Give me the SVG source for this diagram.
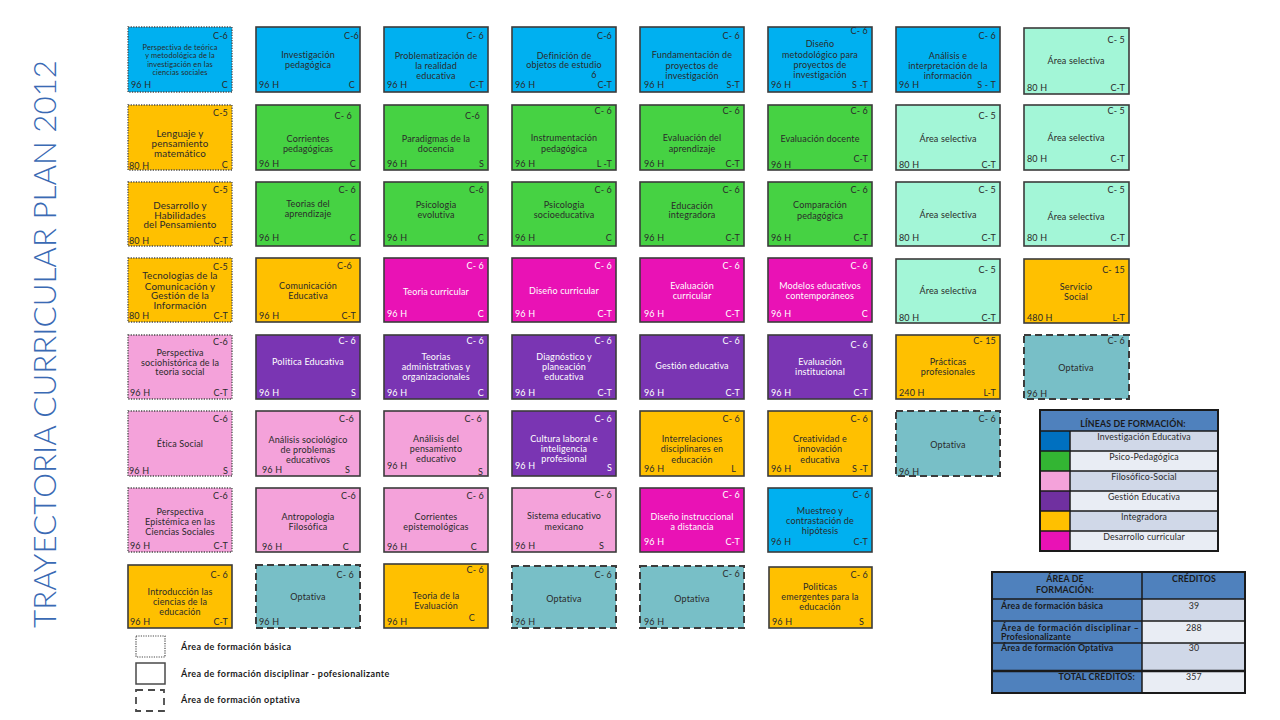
<svg xmlns="http://www.w3.org/2000/svg" width="1280" height="720" viewBox="0 0 1280 720">
<style>
.box{stroke:#3b3b3b;stroke-width:1.6}
.dot{stroke:#4a4a4a;stroke-width:1.3;stroke-dasharray:1.3 1.3}
.dash{stroke:#3b3b3b;stroke-width:2;stroke-dasharray:7 4}
text{font-family:Lato,"Liberation Sans",sans-serif;font-size:9px;fill:#2a2a2a;letter-spacing:0.15px}
.m{text-anchor:middle}
.e{text-anchor:end}
.w text{fill:#ffffff}
.bl{fill:#00b0f0}.gr{fill:#46d243}.or{fill:#ffc000}.mg{fill:#e912b5}.pu{fill:#7a35b3}.pk{fill:#f4a2da}.aq{fill:#a3f6d7}.op{fill:#78bfc7}
.lg text{font-size:8.8px}
.hd{font-weight:bold;fill:#1a1a1a}
.tb{stroke:#1a1a1a;stroke-width:1.5}
.small{font-size:7.4px}
.big{font-size:9.8px}
</style>
<rect width="1280" height="720" fill="#ffffff"/>
<g id="title">
<text transform="translate(56,628) rotate(-90)" style="font-size:31px;font-weight:300;fill:#3a6ab4;letter-spacing:0" textLength="568" lengthAdjust="spacingAndGlyphs">TRAYECTORIA CURRICULAR  PLAN 2012</text>
</g>
<g id="connectors"/>

<!-- Row 1 -->
<g id="n11"><rect class="bl dot" x="128" y="27" width="104" height="65"/>
<text class="m small"><tspan x="180" y="49.5">Perspectiva de teórica</tspan><tspan x="180" y="58">y metodológica de la</tspan><tspan x="180" y="66.5">investigación en las</tspan><tspan x="180" y="75">ciencias sociales</tspan></text>
<text class="e" x="228" y="38.5">C-6</text><text x="131" y="88">96 H</text><text class="e" x="228" y="88">C</text></g>
<g id="n12"><rect class="bl box" x="256" y="27" width="104" height="65"/>
<text class="m"><tspan x="308" y="57.5">Investigación</tspan><tspan x="308" y="68">pedagógica</tspan></text>
<text class="e" x="359" y="38.5">C-6</text><text x="259" y="88">96 H</text><text class="e" x="355" y="88">C</text></g>
<g id="n13"><rect class="bl box" x="384" y="27" width="104" height="65"/>
<text class="m"><tspan x="436" y="58.5">Problematización de</tspan><tspan x="436" y="68.5">la realidad</tspan><tspan x="436" y="78.5">educativa</tspan></text>
<text class="e" x="484" y="38.5">C- 6</text><text x="387" y="88">96 H</text><text class="e" x="484" y="88">C-T</text></g>
<g id="n14"><rect class="bl box" x="512" y="27" width="104" height="65"/>
<text class="m"><tspan x="564" y="58.5">Definición de</tspan><tspan x="564" y="67.5">objetos de estudio</tspan><tspan x="594" y="78">6</tspan></text>
<text class="e" x="612" y="38.5">C-6</text><text x="515" y="88">96 H</text><text class="e" x="612" y="88">C-T</text></g>
<g id="n15"><rect class="bl box" x="640" y="27" width="104" height="65"/>
<text class="m"><tspan x="692" y="57.5">Fundamentación de</tspan><tspan x="692" y="68.5">proyectos de</tspan><tspan x="692" y="78.5">investigación</tspan></text>
<text class="e" x="740" y="38.5">C- 6</text><text x="644" y="88">96 H</text><text class="e" x="740" y="88">S-T</text></g>
<g id="n16"><rect class="bl box" x="768" y="27" width="104" height="65"/>
<text class="m"><tspan x="820" y="47">Diseño</tspan><tspan x="820" y="57.5">metodológico para</tspan><tspan x="820" y="68">proyectos de</tspan><tspan x="820" y="77.5">investigación</tspan></text>
<text class="e" x="868" y="33.5">C- 6</text><text x="771" y="88">96 H</text><text class="e" x="868" y="88">S -T</text></g>
<g id="n17"><rect class="bl box" x="896" y="27" width="104" height="65"/>
<text class="m"><tspan x="948" y="58.5">Análisis e</tspan><tspan x="948" y="68.5">interpretación de la</tspan><tspan x="948" y="78.5">información</tspan></text>
<text class="e" x="996" y="38.5">C- 6</text><text x="899" y="88">96 H</text><text class="e" x="996" y="88">S - T</text></g>
<g id="n18"><rect class="aq box" x="1024" y="28" width="105" height="66"/>
<text class="m" x="1076" y="64">Área selectiva</text>
<text class="e" x="1125" y="42.5">C- 5</text><text x="1027" y="91">80 H</text><text class="e" x="1125" y="91">C-T</text></g>

<!-- Row 2 -->
<g id="n21"><rect class="or dot" x="128" y="105" width="104" height="65"/>
<text class="m big"><tspan x="180" y="136.5">Lenguaje y</tspan><tspan x="180" y="146.5">pensamiento</tspan><tspan x="180" y="156.5">matemático</tspan></text>
<text class="e" x="228" y="116">C-5</text><text x="129" y="168.5">80 H</text><text class="e" x="228" y="168">C</text></g>
<g id="n22"><rect class="gr box" x="256" y="105" width="104" height="65"/>
<text class="m"><tspan x="308" y="142">Corrientes</tspan><tspan x="308" y="152">pedagógicas</tspan></text>
<text class="e" x="352" y="118.5">C- 6</text><text x="259" y="167">96 H</text><text class="e" x="356" y="167">C</text></g>
<g id="n23"><rect class="gr box" x="384" y="105" width="104" height="65"/>
<text class="m"><tspan x="436" y="142">Paradigmas de la</tspan><tspan x="436" y="152">docencia</tspan></text>
<text class="e" x="480" y="118.5">C-6</text><text x="387" y="167">96 H</text><text class="e" x="484" y="167">S</text></g>
<g id="n24"><rect class="gr box" x="512" y="105" width="104" height="65"/>
<text class="m"><tspan x="564" y="140.5">Instrumentación</tspan><tspan x="564" y="152">pedagógica</tspan></text>
<text class="e" x="612" y="113.5">C- 6</text><text x="515" y="167">96 H</text><text class="e" x="612" y="167">L -T</text></g>
<g id="n25"><rect class="gr box" x="640" y="105" width="104" height="65"/>
<text class="m"><tspan x="692" y="140.5">Evaluación del</tspan><tspan x="692" y="151.5">aprendizaje</tspan></text>
<text class="e" x="740" y="113.5">C- 6</text><text x="644" y="167">96 H</text><text class="e" x="740" y="167">C-T</text></g>
<g id="n26"><rect class="gr box" x="768" y="105" width="104" height="65"/>
<text class="m" x="820" y="142">Evaluación  docente</text>
<text class="e" x="868" y="113.5">C- 6</text><text x="771" y="167.5">96 H</text><text class="e" x="868" y="162">C-T</text></g>
<g id="n27"><rect class="aq box" x="896" y="105" width="104" height="65"/>
<text class="m" x="948" y="142">Área selectiva</text>
<text class="e" x="996" y="118.5">C- 5</text><text x="899" y="167.5">80 H</text><text class="e" x="996" y="167.5">C-T</text></g>
<g id="n28"><rect class="aq box" x="1024" y="105" width="105" height="65"/>
<text class="m" x="1076" y="140.5">Área selectiva</text>
<text class="e" x="1125" y="113.5">C- 5</text><text x="1027" y="162">80 H</text><text class="e" x="1125" y="162">C-T</text></g>

<!-- Row 3 -->
<g id="n31"><rect class="or dot" x="128" y="182" width="104" height="64"/>
<text class="m big"><tspan x="180" y="208.5">Desarrollo y</tspan><tspan x="180" y="218.5">Habilidades</tspan><tspan x="180" y="228">del Pensamiento</tspan></text>
<text class="e" x="228" y="192.5">C-5</text><text x="129" y="244">80 H</text><text class="e" x="228" y="244">C-T</text></g>
<g id="n32"><rect class="gr box" x="256" y="182" width="104" height="64"/>
<text class="m"><tspan x="308" y="206.5">Teorias del</tspan><tspan x="308" y="216.5">aprendizaje</tspan></text>
<text class="e" x="356" y="192.5">C- 6</text><text x="259" y="240.5">96  H</text><text class="e" x="356" y="240.5">C</text></g>
<g id="n33"><rect class="gr box" x="384" y="182" width="104" height="64"/>
<text class="m"><tspan x="436" y="207.5">Psicologia</tspan><tspan x="436" y="217.5">evolutiva</tspan></text>
<text class="e" x="484" y="192.5">C-6</text><text x="387" y="240.5">96 H</text><text class="e" x="484" y="240.5">C</text></g>
<g id="n34"><rect class="gr box" x="512" y="182" width="104" height="64"/>
<text class="m"><tspan x="564" y="207.5">Psicologia</tspan><tspan x="564" y="217.5">socioeducativa</tspan></text>
<text class="e" x="612" y="192.5">C- 6</text><text x="515" y="240.5">96 H</text><text class="e" x="612" y="240.5">C</text></g>
<g id="n35"><rect class="gr box" x="640" y="182" width="104" height="64"/>
<text class="m"><tspan x="692" y="208.5">Educación</tspan><tspan x="692" y="217.5">integradora</tspan></text>
<text class="e" x="740" y="192.5">C- 6</text><text x="644" y="240.5">96 H</text><text class="e" x="740" y="240.5">C-T</text></g>
<g id="n36"><rect class="gr box" x="768" y="182" width="104" height="64"/>
<text class="m"><tspan x="820" y="207.5">Comparación</tspan><tspan x="820" y="218.5">pedagógica</tspan></text>
<text class="e" x="868" y="192.5">C- 6</text><text x="771" y="240.5">96 H</text><text class="e" x="868" y="240.5">C-T</text></g>
<g id="n37"><rect class="aq box" x="896" y="182" width="104" height="64"/>
<text class="m" x="948" y="217.5">Área selectiva</text>
<text class="e" x="996" y="192.5">C- 5</text><text x="899" y="240.5">80 H</text><text class="e" x="996" y="240.5">C-T</text></g>
<g id="n38"><rect class="aq box" x="1024" y="182" width="105" height="64"/>
<text class="m" x="1076" y="220">Área selectiva</text>
<text class="e" x="1125" y="192.5">C- 5</text><text x="1027" y="240.5">80 H</text><text class="e" x="1125" y="240.5">C-T</text></g>

<!-- Row 4 -->
<g id="n41"><rect class="or dot" x="128" y="258" width="104" height="64"/>
<text class="m big"><tspan x="180" y="279">Tecnologias de la</tspan><tspan x="180" y="289.5">Comunicación y</tspan><tspan x="180" y="299">Gestión de la</tspan><tspan x="180" y="309">Información</tspan></text>
<text class="e" x="228" y="269.5">C-5</text><text x="129" y="318.5">80 H</text><text class="e" x="228" y="318.5">C-T</text></g>
<g id="n42"><rect class="or box" x="256" y="258" width="104" height="64"/>
<text class="m"><tspan x="308" y="288.5">Comunicación</tspan><tspan x="308" y="298.5">Educativa</tspan></text>
<text class="e" x="352" y="269">C-6</text><text x="259" y="318.5">96  H</text><text class="e" x="356" y="318.5">C-T</text></g>
<g id="n43" class="w"><rect class="mg box" x="384" y="258" width="104" height="64"/>
<text class="m" x="436" y="294.5">Teoria curricular</text>
<text class="e" x="484" y="269">C- 6</text><text x="387" y="316.5">96 H</text><text class="e" x="484" y="316.5">C</text></g>
<g id="n44" class="w"><rect class="mg box" x="512" y="258" width="104" height="64"/>
<text class="m" x="564" y="293.5">Diseño curricular</text>
<text class="e" x="612" y="269">C- 6</text><text x="515" y="316.5">96 H</text><text class="e" x="612" y="316.5">C-T</text></g>
<g id="n45" class="w"><rect class="mg box" x="640" y="258" width="104" height="64"/>
<text class="m"><tspan x="692" y="288.5">Evaluación</tspan><tspan x="692" y="298.5">curricular</tspan></text>
<text class="e" x="740" y="268.5">C- 6</text><text x="644" y="316.5">96 H</text><text class="e" x="740" y="316.5">C-T</text></g>
<g id="n46" class="w"><rect class="mg box" x="768" y="258" width="104" height="64"/>
<text class="m"><tspan x="820" y="288.5">Modelos educativos</tspan><tspan x="820" y="298.5">contemporáneos</tspan></text>
<text class="e" x="868" y="268.5">C- 6</text><text x="771" y="316.5">96 H</text><text class="e" x="868" y="316.5">C</text></g>
<g id="n47"><rect class="aq box" x="896" y="259" width="104" height="64"/>
<text class="m" x="948" y="293.5">Área selectiva</text>
<text class="e" x="996" y="272.5">C- 5</text><text x="899" y="321">80  H</text><text class="e" x="996" y="321">C-T</text></g>
<g id="n48"><rect class="or box" x="1024" y="259" width="105" height="64"/>
<text class="m"><tspan x="1076" y="289.5">Servicio</tspan><tspan x="1076" y="299.5">Social</tspan></text>
<text class="e" x="1125" y="272.5">C- 15</text><text x="1027" y="321">480 H</text><text class="e" x="1125" y="321">L-T</text></g>

<!-- Row 5 -->
<g id="n51"><rect class="pk dot" x="128" y="335" width="104" height="64"/>
<text class="m"><tspan x="180" y="355.5">Perspectiva</tspan><tspan x="180" y="365.5">sociohistórica de la</tspan><tspan x="180" y="374.5">teoria social</tspan></text>
<text class="e" x="228" y="344.5">C-6</text><text x="130" y="396">96 H</text><text class="e" x="228" y="396">C-T</text></g>
<g id="n52" class="w"><rect class="pu box" x="256" y="335" width="104" height="64"/>
<text class="m" x="308" y="364.5">Politica  Educativa</text>
<text class="e" x="356" y="344">C- 6</text><text x="259" y="396">96  H</text><text class="e" x="356" y="396">S</text></g>
<g id="n53" class="w"><rect class="pu box" x="384" y="335" width="104" height="64"/>
<text class="m"><tspan x="436" y="359.5">Teorias</tspan><tspan x="436" y="369.5">administrativas y</tspan><tspan x="436" y="379.5">organizacionales</tspan></text>
<text class="e" x="484" y="344">C- 6</text><text x="387" y="396">96 H</text><text class="e" x="484" y="396">C</text></g>
<g id="n54" class="w"><rect class="pu box" x="512" y="335" width="104" height="64"/>
<text class="m"><tspan x="564" y="359.5">Diagnóstico y</tspan><tspan x="564" y="369.5">planeación</tspan><tspan x="564" y="380">educativa</tspan></text>
<text class="e" x="612" y="344">C- 6</text><text x="515" y="396">96 H</text><text class="e" x="612" y="396">C-T</text></g>
<g id="n55" class="w"><rect class="pu box" x="640" y="335" width="104" height="64"/>
<text class="m" x="692" y="369">Gestión educativa</text>
<text class="e" x="740" y="344">C- 6</text><text x="644" y="396">96 H</text><text class="e" x="740" y="396">C-T</text></g>
<g id="n56" class="w"><rect class="pu box" x="768" y="335" width="104" height="64"/>
<text class="m"><tspan x="820" y="364.5">Evaluación</tspan><tspan x="820" y="374.5">institucional</tspan></text>
<text class="e" x="868" y="347.5">C- 6</text><text x="771" y="396">96 H</text><text class="e" x="868" y="396">C-T</text></g>
<g id="n57"><rect class="or box" x="896" y="335" width="104" height="64"/>
<text class="m"><tspan x="948" y="364.5">Prácticas</tspan><tspan x="948" y="374.5">profesionales</tspan></text>
<text class="e" x="996" y="344">C- 15</text><text x="899" y="396">240 H</text><text class="e" x="996" y="396">L-T</text></g>
<g id="n58"><rect class="op dash" x="1024" y="335" width="105" height="64"/>
<text class="m" x="1076" y="370.5">Optativa</text>
<text class="e" x="1125" y="344">C- 6</text><text x="1027" y="396.5">96 H</text></g>

<!-- Row 6 -->
<g id="n61"><rect class="pk dot" x="128" y="411" width="104" height="65"/>
<text class="m" x="180" y="446.5">Ética Social</text>
<text class="e" x="228" y="421.5">C-6</text><text x="129" y="474">96 H</text><text class="e" x="228" y="474">S</text></g>
<g id="n62"><rect class="pk box" x="256" y="411" width="104" height="65"/>
<text class="m"><tspan x="308" y="442.5">Análisis sociológico</tspan><tspan x="308" y="452.5">de problemas</tspan><tspan x="308" y="462.5">educativos</tspan></text>
<text class="e" x="354" y="421.5">C-6</text><text x="262" y="473">96 H</text><text class="e" x="350" y="473">S</text></g>
<g id="n63"><rect class="pk box" x="384" y="411" width="104" height="65"/>
<text class="m"><tspan x="436" y="441.5">Análisis del</tspan><tspan x="436" y="451.5">pensamiento</tspan><tspan x="436" y="461.5">educativo</tspan></text>
<text class="e" x="482" y="421.5">C- 6</text><text x="387" y="468.5">96 H</text><text class="e" x="483" y="474.5">S</text></g>
<g id="n64" class="w"><rect class="pu box" x="512" y="411" width="104" height="65"/>
<text class="m"><tspan x="564" y="441.5">Cultura laboral e</tspan><tspan x="564" y="451.5">inteligencia</tspan><tspan x="564" y="461.5">profesional</tspan></text>
<text class="e" x="612" y="421.5">C- 6</text><text x="515" y="468.5">96 H</text><text class="e" x="612" y="470.5">S</text></g>
<g id="n65"><rect class="or box" x="640" y="411" width="104" height="65"/>
<text class="m"><tspan x="692" y="441.5">Interrelaciones</tspan><tspan x="692" y="451.5">disciplinares en</tspan><tspan x="692" y="462.5">educación</tspan></text>
<text class="e" x="740" y="422">C- 6</text><text x="644" y="471.5">96 H</text><text class="e" x="736" y="471.5">L</text></g>
<g id="n66"><rect class="or box" x="768" y="411" width="104" height="65"/>
<text class="m"><tspan x="820" y="441.5">Creatividad e</tspan><tspan x="820" y="451.5">innovación</tspan><tspan x="820" y="462.5">educativa</tspan></text>
<text class="e" x="868" y="422">C- 6</text><text x="771" y="471.5">96 H</text><text class="e" x="868" y="471.5">S -T</text></g>
<g id="n67"><rect class="op dash" x="896" y="411" width="104" height="65"/>
<text class="m" x="948" y="447.5">Optativa</text>
<text class="e" x="996" y="422">C- 6</text><text x="899" y="475">96 H</text></g>

<!-- Row 7 -->
<g id="n71"><rect class="pk dot" x="128" y="488" width="104" height="64"/>
<text class="m"><tspan x="180" y="515">Perspectiva</tspan><tspan x="180" y="525">Epistémica en las</tspan><tspan x="180" y="534.5">Ciencias Sociales</tspan></text>
<text class="e" x="228" y="498.5">C-6</text><text x="130" y="549">96 H</text><text class="e" x="228" y="549">C-T</text></g>
<g id="n72"><rect class="pk box" x="256" y="488" width="104" height="64"/>
<text class="m"><tspan x="308" y="519.5">Antropologia</tspan><tspan x="308" y="529.5">Filosófica</tspan></text>
<text class="e" x="356" y="498.5">C-6</text><text x="262" y="549.5">96 H</text><text class="e" x="349" y="549.5">C</text></g>
<g id="n73"><rect class="pk box" x="384" y="488" width="104" height="64"/>
<text class="m"><tspan x="436" y="519.5">Corrientes</tspan><tspan x="436" y="529.5">epistemológicas</tspan></text>
<text class="e" x="484" y="498.5">C- 6</text><text x="387" y="549.5">96 H</text><text class="e" x="477" y="549.5">C</text></g>
<g id="n74"><rect class="pk box" x="512" y="488" width="104" height="64"/>
<text class="m"><tspan x="564" y="518.5">Sistema educativo</tspan><tspan x="564" y="529.5">mexicano</tspan></text>
<text class="e" x="612" y="497.5">C- 6</text><text x="515" y="549">96 H</text><text class="e" x="604" y="549">S</text></g>
<g id="n75" class="w"><rect class="mg box" x="640" y="488" width="104" height="64"/>
<text class="m"><tspan x="692" y="519.5">Diseño instruccional</tspan><tspan x="692" y="529.5">a distancia</tspan></text>
<text class="e" x="740" y="497.5">C- 6</text><text x="644" y="545">96 H</text><text class="e" x="740" y="545">C-T</text></g>
<g id="n76"><rect class="bl box" x="768" y="488" width="104" height="64"/>
<text class="m"><tspan x="820" y="513.5">Muestreo y</tspan><tspan x="820" y="523.5">contrastación de</tspan><tspan x="820" y="533.5">hipótesis</tspan></text>
<text class="e" x="870" y="497.5">C- 6</text><text x="771" y="545">96 H</text><text class="e" x="868" y="545">C-T</text></g>

<!-- Row 8 -->
<g id="n81"><rect class="or box" x="128" y="565" width="104" height="63"/>
<text class="m"><tspan x="180" y="594.5">Introducción las</tspan><tspan x="180" y="604.5">ciencias de la</tspan><tspan x="180" y="615">educación</tspan></text>
<text class="e" x="228" y="577.5">C- 6</text><text x="130" y="625">96 H</text><text class="e" x="228" y="625">C-T</text></g>
<g id="n82"><rect class="op dash" x="256" y="565" width="104" height="63"/>
<text class="m" x="308" y="600">Optativa</text>
<text class="e" x="354" y="577.5">C- 6</text><text x="259" y="625">96 H</text></g>
<g id="n83"><rect class="or box" x="384" y="564" width="104" height="64"/>
<text class="m"><tspan x="436" y="598.5">Teoria de la</tspan><tspan x="436" y="609">Evaluación</tspan></text>
<text class="e" x="484" y="572.5">C- 6</text><text x="387" y="625">96 H</text><text class="e" x="475" y="620.5">C</text></g>
<g id="n84"><rect class="op dash" x="512" y="566" width="104" height="62"/>
<text class="m" x="564" y="601.5">Optativa</text>
<text class="e" x="612" y="577.5">C- 6</text><text x="515" y="625">96 H</text></g>
<g id="n85"><rect class="op dash" x="640" y="566" width="104" height="62"/>
<text class="m" x="692" y="601.5">Optativa</text>
<text class="e" x="740" y="576.5">C- 6</text><text x="644" y="625">96 H</text></g>
<g id="n86"><rect class="or box" x="769" y="567" width="103" height="61"/>
<text class="m"><tspan x="820" y="590">Politicas</tspan><tspan x="820" y="600">emergentes para la</tspan><tspan x="820" y="610">educación</tspan></text>
<text class="e" x="868" y="577.5">C- 6</text><text x="772" y="625">96 H</text><text class="e" x="864" y="625">S</text></g>

<!-- Legend: líneas de formación -->
<g id="legend-lineas" class="lg">
<rect x="1040" y="410" width="178" height="21" fill="#4f81bd"/>
<rect x="1070" y="431" width="148" height="20" fill="#d0d8e8"/>
<rect x="1070" y="451" width="148" height="20" fill="#e9edf4"/>
<rect x="1070" y="471" width="148" height="20" fill="#d0d8e8"/>
<rect x="1070" y="491" width="148" height="20" fill="#e9edf4"/>
<rect x="1070" y="511" width="148" height="20" fill="#d0d8e8"/>
<rect x="1070" y="531" width="148" height="20" fill="#e9edf4"/>
<rect x="1040" y="431" width="30" height="20" fill="#0070c0"/>
<rect x="1040" y="451" width="30" height="20" fill="#33b533"/>
<rect x="1040" y="471" width="30" height="20" fill="#f4a2da"/>
<rect x="1040" y="491" width="30" height="20" fill="#7030a0"/>
<rect x="1040" y="511" width="30" height="20" fill="#ffc000"/>
<rect x="1040" y="531" width="30" height="20" fill="#e912b5"/>
<g class="tb" fill="none">
<rect x="1040" y="410" width="178" height="141" stroke-width="2"/>
<line x1="1040" y1="431" x2="1218" y2="431"/>
<line x1="1040" y1="451" x2="1218" y2="451"/>
<line x1="1040" y1="471" x2="1218" y2="471"/>
<line x1="1040" y1="491" x2="1218" y2="491"/>
<line x1="1040" y1="511" x2="1218" y2="511"/>
<line x1="1040" y1="531" x2="1218" y2="531"/>
<line x1="1070" y1="431" x2="1070" y2="551"/>
</g>
<text class="m hd" x="1133" y="427">LÍNEAS DE FORMACIÓN:</text>
<text class="m" x="1144" y="439.5">Investigación Educativa</text>
<text class="m" x="1144" y="459.5">Psico-Pedagógica</text>
<text class="m" x="1144" y="479.5">Filosófico-Social</text>
<text class="m" x="1144" y="499.5">Gestión Educativa</text>
<text class="m" x="1144" y="519.5">Integradora</text>
<text class="m" x="1144" y="539.5">Desarrollo curricular</text>
</g>

<!-- Credits table -->
<g id="tabla-creditos" class="lg">
<rect x="992" y="572" width="253" height="27" fill="#4f81bd"/>
<rect x="992" y="599" width="150" height="94" fill="#4f81bd"/>
<rect x="1142" y="599" width="103" height="22" fill="#d0d8e8"/>
<rect x="1142" y="621" width="103" height="22" fill="#e9edf4"/>
<rect x="1142" y="643" width="103" height="28" fill="#d0d8e8"/>
<rect x="1142" y="671" width="103" height="22" fill="#e9edf4"/>
<g class="tb" fill="none">
<rect x="992" y="572" width="253" height="121" stroke-width="2"/>
<line x1="992" y1="599" x2="1245" y2="599"/>
<line x1="992" y1="621" x2="1245" y2="621"/>
<line x1="992" y1="643" x2="1245" y2="643"/>
<line x1="992" y1="671" x2="1245" y2="671" stroke-width="2.5"/>
<line x1="1142" y1="572" x2="1142" y2="693"/>
</g>
<text class="m hd" x="1065" y="582">ÁREA DE</text>
<text class="m hd" x="1065" y="592.5">FORMACIÓN:</text>
<text class="m hd" x="1194" y="582">CRÉDITOS</text>
<text class="hd" x="1001" y="608.5">Área de formación básica</text>
<text class="hd" x="1001" y="631" textLength="138" lengthAdjust="spacing">Área de formación disciplinar –</text>
<text class="hd" x="1001" y="639.5">Profesionalizante</text>
<text class="hd" x="1001" y="650.5">Área de formación  Optativa</text>
<text class="hd e" x="1135" y="679.5">TOTAL CRÉDITOS:</text>
<text class="m" x="1194" y="608.5">39</text>
<text class="m" x="1194" y="631">288</text>
<text class="m" x="1194" y="650.5">30</text>
<text class="m" x="1194" y="679.5">357</text>
</g>

<!-- Legend: áreas -->
<g id="legend-areas">
<rect x="136" y="636" width="29" height="21" fill="none" stroke="#4a4a4a" stroke-width="1.2" stroke-dasharray="1.2 1.2"/>
<rect x="136" y="663" width="29" height="21" fill="none" stroke="#4a4a4a" stroke-width="1.5"/>
<rect x="136" y="690" width="28" height="21" fill="none" stroke="#4a4a4a" stroke-width="1.8" stroke-dasharray="7 5"/>
<text class="hd" x="181" y="650" style="font-size:9px;letter-spacing:0.4px">Área de formación básica</text>
<text class="hd" x="181" y="677" style="font-size:9px;letter-spacing:0.4px">Área de formación disciplinar - pofesionalizante</text>
<text class="hd" x="181" y="703" style="font-size:9px;letter-spacing:0.4px">Área de formación optativa</text>
</g>
</svg>
